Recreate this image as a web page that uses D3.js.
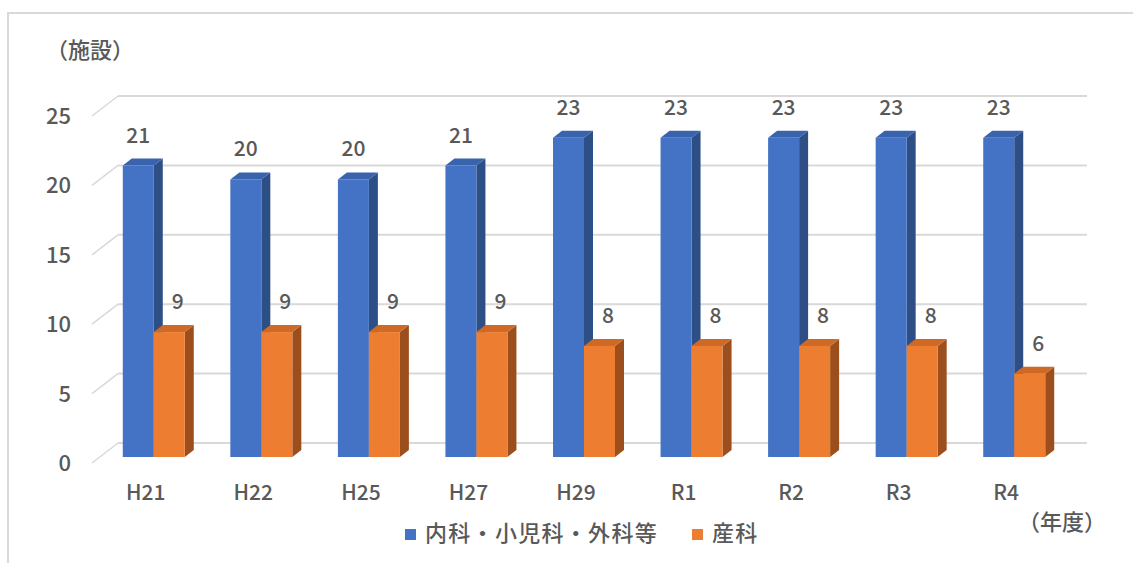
<!DOCTYPE html>
<html>
<head>
<meta charset="utf-8">
<script src="https://cdn.jsdelivr.net/npm/d3@7"></script>
<style>
  body { margin: 0; background: #fff; }
  svg text { font-family: "Noto Sans CJK JP", "Noto Sans", sans-serif; fill: #595959; font-weight: 500; }
</style>
</head>
<body>
<div id="chart"></div>
<script>
// データ
const categories = ['H21', 'H22', 'H25', 'H27', 'H29', 'R1', 'R2', 'R3', 'R4'];
const seriesNames = ['内科・小児科・外科等', '産科'];
const naika = [21, 20, 20, 21, 23, 23, 23, 23, 23];
const sanka = [9, 9, 9, 9, 8, 8, 8, 8, 6];
const yTicks = [0, 5, 10, 15, 20, 25];

const colors = {
    front: ['#4472C4', '#ED7D31'],
    side: ['#2E4F86', '#9C4F1C'],
    top: ['#3A63AE', '#CF6A26']
};

const W = 1133, H = 563;
const depthX = 9, depthY = 7;      // 棒の奥行き
const wallX = 26, wallY = 20;      // 背面グリッドのずれ

const svg = d3.select('#chart')
    .append('svg')
    .attr('width', W)
    .attr('height', H);

// 枠
svg.append('path')
    .attr('d', `M8,${H}V13H${W}`)
    .attr('fill', 'none')
    .attr('stroke', '#d9d9d9')
    .attr('stroke-width', 2);

// スケール
const x = d3.scaleBand()
    .domain(categories)
    .range([100, 1068])
    .padding(0);

const barW = 31;
const xs = d3.scaleBand()
    .domain(seriesNames)
    .range([x.bandwidth() / 2 - barW, x.bandwidth() / 2 + barW]);

const y = d3.scaleLinear()
    .domain([0, 25])
    .range([457, 110]);

// グリッド
const grid = svg.append('g');
yTicks.forEach(t => {
    const yb = y(t) - 14;
    grid.append('line')
        .attr('x1', 118).attr('x2', 1087)
        .attr('y1', yb).attr('y2', yb)
        .attr('stroke', '#d9d9d9')
        .attr('stroke-width', 2);
    grid.append('line')
        .attr('x1', 92).attr('x2', 118)
        .attr('y1', yb + wallY).attr('y2', yb)
        .attr('stroke', '#d9d9d9')
        .attr('stroke-width', 1.5);
    grid.append('text')
        .attr('x', 71)
        .attr('y', yb + wallY - 2)
        .attr('text-anchor', 'end')
        .attr('dominant-baseline', 'central')
        .attr('font-size', 22)
        .text(t);
});

// 棒（3D風）
const series = [naika, sanka];
series.forEach((vals, si) => {
    const g = svg.append('g');
    vals.forEach((v, i) => {
        const x0 = x(categories[i]) + xs(seriesNames[si]);
        const x1 = x0 + barW;
        const yt = y(v), yb = y(0);
        // 側面
        g.append('path')
            .attr('d', `M${x1},${yb}L${x1 + depthX},${yb - depthY}L${x1 + depthX},${yt - depthY}L${x1},${yt}Z`)
            .attr('fill', colors.side[si]);
        // 上面
        g.append('path')
            .attr('d', `M${x0},${yt}L${x0 + depthX},${yt - depthY}L${x1 + depthX},${yt - depthY}L${x1},${yt}Z`)
            .attr('fill', colors.top[si]);
        // 正面
        g.append('rect')
            .attr('x', x0)
            .attr('y', yt)
            .attr('width', barW)
            .attr('height', yb - yt)
            .attr('fill', colors.front[si]);
        // データラベル
        g.append('text')
            .attr('x', x0 + barW / 2 + (si === 1 ? 8.5 : 0))
            .attr('y', yt - depthY - 16)
            .attr('text-anchor', 'middle')
            .attr('font-size', 21)
            .text(v);
    });
});

// 項目ラベル
svg.append('g')
    .selectAll('text')
    .data(categories)
    .join('text')
    .attr('x', d => x(d) + x.bandwidth() / 2 - 8)
    .attr('y', 500)
    .attr('text-anchor', 'middle')
    .attr('font-size', 21)
    .text(d => d);

// 軸タイトル
svg.append('text')
    .attr('x', 90)
    .attr('y', 58)
    .attr('text-anchor', 'middle')
    .attr('font-size', 22)
    .text('（施設）');

svg.append('text')
    .attr('x', 1062)
    .attr('y', 530)
    .attr('text-anchor', 'middle')
    .attr('font-size', 22)
    .text('（年度）');

// 凡例
const legend = svg.append('g');
const legendX = [405, 692];
seriesNames.forEach((name, si) => {
    legend.append('rect')
        .attr('x', legendX[si])
        .attr('y', 529)
        .attr('width', 11)
        .attr('height', 11)
        .attr('fill', colors.front[si]);
    legend.append('text')
        .attr('x', legendX[si] + 20)
        .attr('y', 541)
        .attr('font-size', 22)
        .attr('letter-spacing', 1.3)
        .text(name);
});
</script>
</body>
</html>
